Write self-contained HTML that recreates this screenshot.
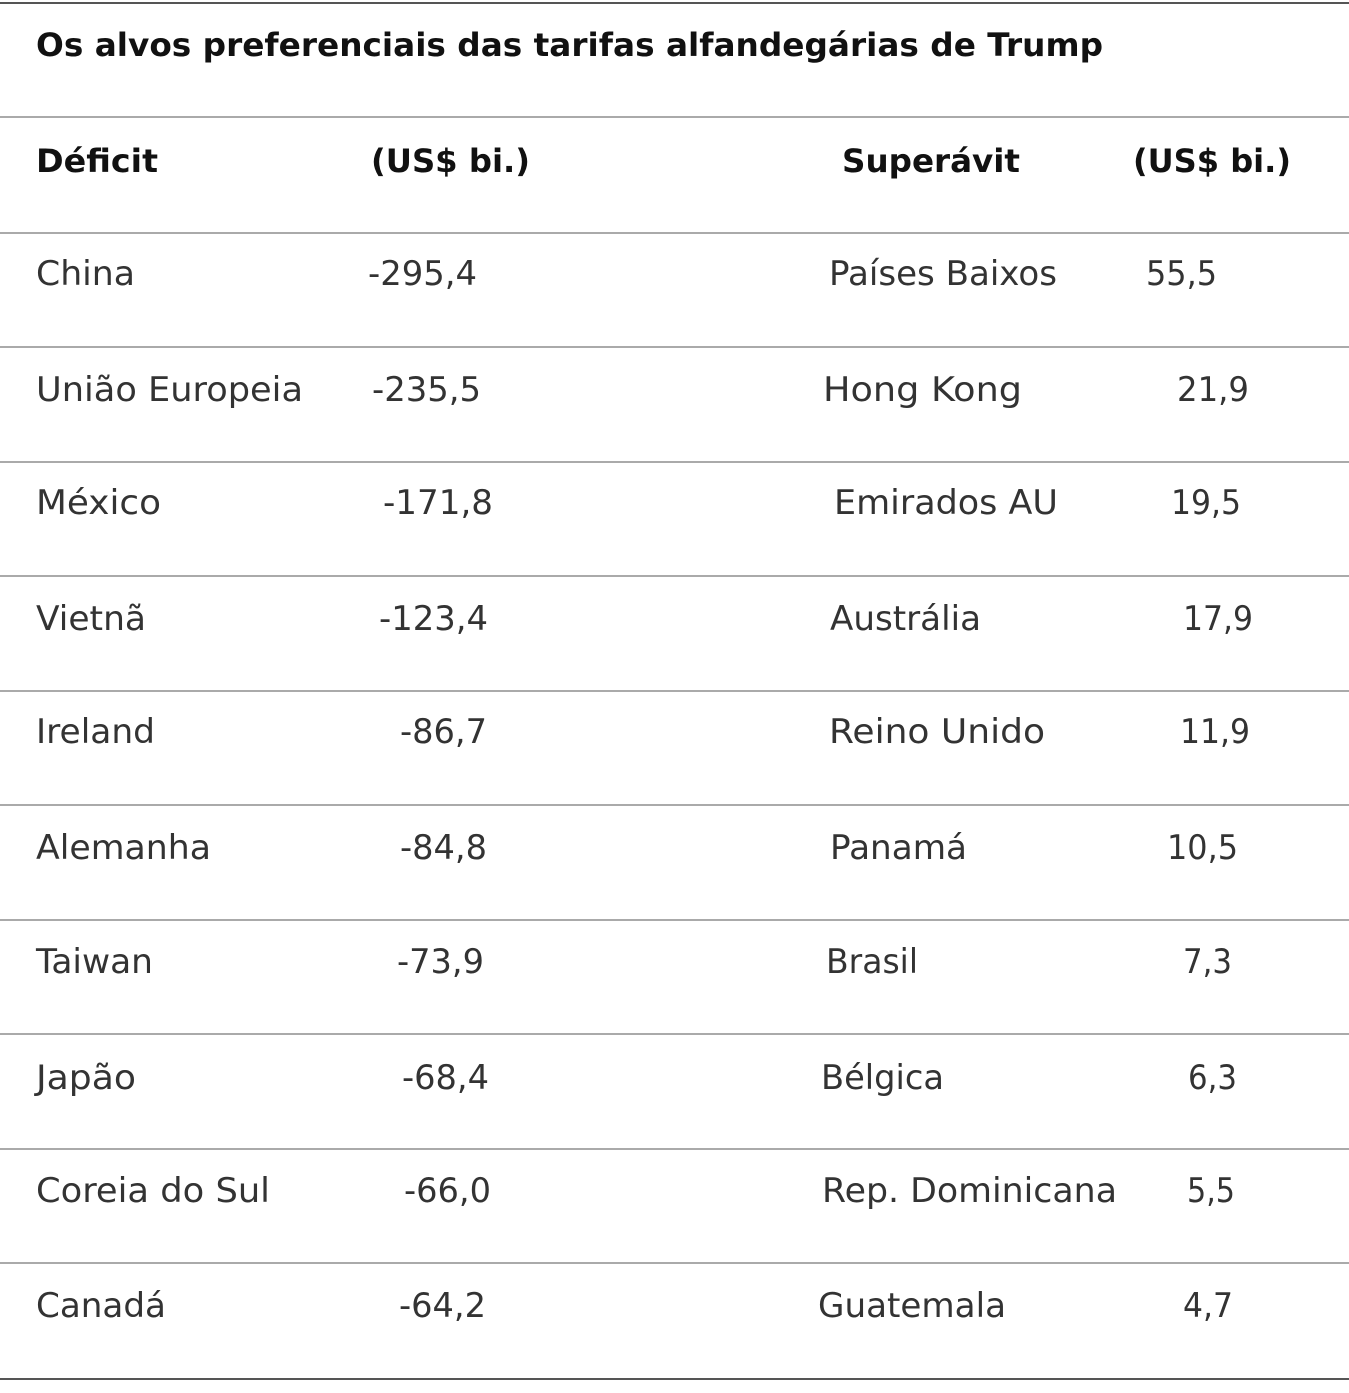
<!DOCTYPE html>
<html><head><meta charset="utf-8"><style>
html,body{margin:0;padding:0;background:#fff;}
svg{display:block}
.t{font-family:"DejaVu Sans","Liberation Sans",sans-serif;font-size:34px;fill:#333}
.b{font-family:"DejaVu Sans","Liberation Sans",sans-serif;font-weight:bold;font-size:32px;fill:#111}
</style></head><body>
<svg width="1349" height="1393" viewBox="0 0 1349 1393" xmlns="http://www.w3.org/2000/svg">
<rect width="1349" height="1393" fill="#fff"/>
<rect x="0" y="2" width="1349" height="2" fill="#555"/>
<g fill="#aaa">
<rect x="0" y="116" width="1349" height="2"/>
<rect x="0" y="232" width="1349" height="2"/>
<rect x="0" y="346" width="1349" height="2"/>
<rect x="0" y="461" width="1349" height="2"/>
<rect x="0" y="575" width="1349" height="2"/>
<rect x="0" y="690" width="1349" height="2"/>
<rect x="0" y="804" width="1349" height="2"/>
<rect x="0" y="919" width="1349" height="2"/>
<rect x="0" y="1033" width="1349" height="2"/>
<rect x="0" y="1148" width="1349" height="2"/>
<rect x="0" y="1262" width="1349" height="2"/>
</g>
<rect x="0" y="1378" width="1349" height="2" fill="#555"/>
<text class="b" x="36" y="56" textLength="1067" lengthAdjust="spacingAndGlyphs">Os alvos preferenciais das tarifas alfandegárias de Trump</text>
<text class="b" x="36" y="172" textLength="122" lengthAdjust="spacingAndGlyphs">Déficit</text>
<text class="b" x="371" y="172" textLength="159" lengthAdjust="spacingAndGlyphs">(US$ bi.)</text>
<text class="b" x="842" y="172" textLength="178" lengthAdjust="spacingAndGlyphs">Superávit</text>
<text class="b" x="1133" y="172" textLength="158" lengthAdjust="spacingAndGlyphs">(US$ bi.)</text>

<g class="t">
<text x="36" y="285" textLength="99" lengthAdjust="spacingAndGlyphs">China</text>
<text x="368" y="285" textLength="109" lengthAdjust="spacingAndGlyphs">-295,4</text>
<text x="829" y="285" textLength="228" lengthAdjust="spacingAndGlyphs">Países Baixos</text>
<text x="1146" y="285" textLength="71" lengthAdjust="spacingAndGlyphs">55,5</text>

<text x="36" y="401" textLength="267" lengthAdjust="spacingAndGlyphs">União Europeia</text>
<text x="372" y="401" textLength="109" lengthAdjust="spacingAndGlyphs">-235,5</text>
<text x="823" y="401" textLength="199" lengthAdjust="spacingAndGlyphs">Hong Kong</text>
<text x="1177" y="401" textLength="72" lengthAdjust="spacingAndGlyphs">21,9</text>

<text x="36" y="514" textLength="125" lengthAdjust="spacingAndGlyphs">México</text>
<text x="383" y="514" textLength="110" lengthAdjust="spacingAndGlyphs">-171,8</text>
<text x="834" y="514" textLength="224" lengthAdjust="spacingAndGlyphs">Emirados AU</text>
<text x="1171" y="514" textLength="70" lengthAdjust="spacingAndGlyphs">19,5</text>

<text x="36" y="630" textLength="110" lengthAdjust="spacingAndGlyphs">Vietnã</text>
<text x="379" y="630" textLength="109" lengthAdjust="spacingAndGlyphs">-123,4</text>
<text x="830" y="630" textLength="151" lengthAdjust="spacingAndGlyphs">Austrália</text>
<text x="1183" y="630" textLength="70" lengthAdjust="spacingAndGlyphs">17,9</text>

<text x="36" y="743" textLength="119" lengthAdjust="spacingAndGlyphs">Ireland</text>
<text x="400" y="743" textLength="87" lengthAdjust="spacingAndGlyphs">-86,7</text>
<text x="829" y="743" textLength="216" lengthAdjust="spacingAndGlyphs">Reino Unido</text>
<text x="1180" y="743" textLength="70" lengthAdjust="spacingAndGlyphs">11,9</text>

<text x="36" y="859" textLength="175" lengthAdjust="spacingAndGlyphs">Alemanha</text>
<text x="400" y="859" textLength="87" lengthAdjust="spacingAndGlyphs">-84,8</text>
<text x="830" y="859" textLength="137" lengthAdjust="spacingAndGlyphs">Panamá</text>
<text x="1167" y="859" textLength="71" lengthAdjust="spacingAndGlyphs">10,5</text>

<text x="36" y="973" textLength="117" lengthAdjust="spacingAndGlyphs">Taiwan</text>
<text x="397" y="973" textLength="87" lengthAdjust="spacingAndGlyphs">-73,9</text>
<text x="826" y="973" textLength="92" lengthAdjust="spacingAndGlyphs">Brasil</text>
<text x="1183" y="973" textLength="49" lengthAdjust="spacingAndGlyphs">7,3</text>

<text x="36" y="1089" textLength="100" lengthAdjust="spacingAndGlyphs">Japão</text>
<text x="402" y="1089" textLength="87" lengthAdjust="spacingAndGlyphs">-68,4</text>
<text x="821" y="1089" textLength="123" lengthAdjust="spacingAndGlyphs">Bélgica</text>
<text x="1188" y="1089" textLength="49" lengthAdjust="spacingAndGlyphs">6,3</text>

<text x="36" y="1202" textLength="234" lengthAdjust="spacingAndGlyphs">Coreia do Sul</text>
<text x="404" y="1202" textLength="87" lengthAdjust="spacingAndGlyphs">-66,0</text>
<text x="822" y="1202" textLength="295" lengthAdjust="spacingAndGlyphs">Rep. Dominicana</text>
<text x="1187" y="1202" textLength="48" lengthAdjust="spacingAndGlyphs">5,5</text>

<text x="36" y="1317" textLength="130" lengthAdjust="spacingAndGlyphs">Canadá</text>
<text x="399" y="1317" textLength="87" lengthAdjust="spacingAndGlyphs">-64,2</text>
<text x="818" y="1317" textLength="188" lengthAdjust="spacingAndGlyphs">Guatemala</text>
<text x="1183" y="1317" textLength="50" lengthAdjust="spacingAndGlyphs">4,7</text>
</g>
</svg>
</body></html>
